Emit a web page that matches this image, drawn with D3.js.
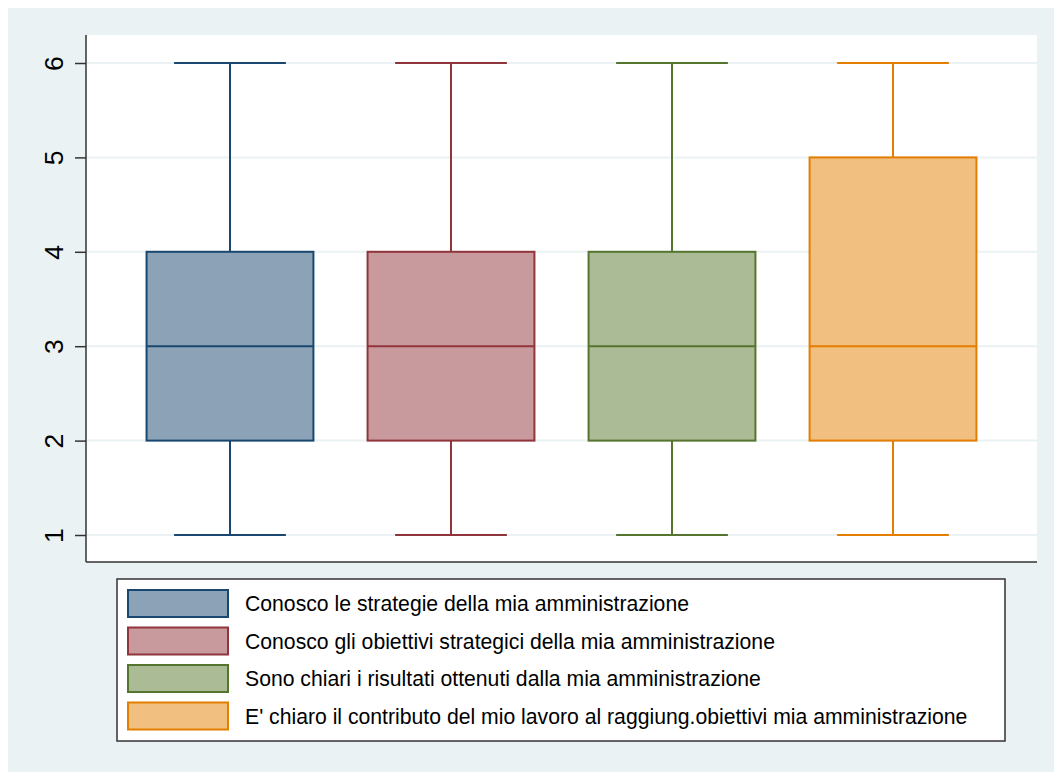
<!DOCTYPE html>
<html><head><meta charset="utf-8">
<script src="https://cdn.jsdelivr.net/npm/d3@7"></script>
<style>html,body{margin:0;padding:0;background:#fff;}svg{display:block;font-family:Arial,"Liberation Sans",sans-serif;}</style>
</head><body>
<svg id="c" width="1054" height="772"></svg>
<script>
const categories = ["Conosco le strategie della mia amministrazione",
  "Conosco gli obiettivi strategici della mia amministrazione",
  "Sono chiari i risultati ottenuti dalla mia amministrazione",
  "E' chiaro il contributo del mio lavoro al raggiung.obiettivi mia amministrazione"];
const whiskerLow = [1, 1, 1, 1];
const q1 = [2, 2, 2, 2];
const median = [3, 3, 3, 3];
const q3 = [4, 4, 4, 5];
const whiskerHigh = [6, 6, 6, 6];
const yTicks = [1, 2, 3, 4, 5, 6];
const strokeColors = ["#1a476f", "#90353b", "#55752f", "#e37e00"];
const fillColors = ["#8ca3b7", "#c89a9d", "#aabb96", "#f1bf80"];

const data = categories.map((c, i) => ({c, lo: whiskerLow[i], q1: q1[i], med: median[i], q3: q3[i], hi: whiskerHigh[i], i}));

const svg = d3.select("#c");
svg.append("rect").attr("x", 8).attr("y", 8).attr("width", 1046).attr("height", 764).attr("fill", "#eaf2f3");

const L = 86, R = 1037, T = 35, B = 562;
svg.append("rect").attr("x", L).attr("y", T).attr("width", R - L).attr("height", B - T).attr("fill", "#fff");

const y = d3.scaleLinear().domain([1, 6]).range([535, 63]);
const x = d3.scaleBand().domain(categories).range([L, R]).paddingInner(0.245).paddingOuter(0.274);

// grid
svg.append("g").selectAll("line").data(yTicks).join("line")
  .attr("x1", L).attr("x2", R).attr("y1", d => y(d)).attr("y2", d => y(d))
  .attr("stroke", "#eaf2f3").attr("stroke-width", 2);

// y axis
const yAxis = d3.axisLeft(y).tickValues(yTicks).tickSize(11).tickPadding(12).tickFormat(d3.format("d"));
const gy = svg.append("g").attr("transform", `translate(${L},0)`).call(yAxis);
gy.select(".domain").attr("d", `M0,${T}V${B}`).attr("stroke", "#333").attr("stroke-width", 1.5);
gy.selectAll(".tick line").attr("stroke", "#333").attr("stroke-width", 1.5);
gy.selectAll(".tick text").attr("font-size", 26.5).attr("fill", "#000")
  .attr("font-family", "Arial, 'Liberation Sans', sans-serif")
  .attr("transform", "rotate(-90)").attr("text-anchor", "middle")
  .attr("x", 0).attr("y", -23).attr("dy", 0);

// bottom axis line
svg.append("line").attr("x1", L).attr("x2", R).attr("y1", B).attr("y2", B).attr("stroke", "#333").attr("stroke-width", 1.5);

const bw = x.bandwidth();
const capW = bw * 0.67;
const g = svg.append("g").selectAll("g").data(data).join("g");
g.each(function(d) {
  const s = d3.select(this);
  const cx = x(d.c) + bw / 2;
  const col = strokeColors[d.i];
  s.append("line").attr("x1", cx).attr("x2", cx).attr("y1", y(d.hi)).attr("y2", y(d.q3)).attr("stroke", col).attr("stroke-width", 2);
  s.append("line").attr("x1", cx).attr("x2", cx).attr("y1", y(d.q1)).attr("y2", y(d.lo)).attr("stroke", col).attr("stroke-width", 2);
  s.append("line").attr("x1", cx - capW / 2).attr("x2", cx + capW / 2).attr("y1", y(d.hi)).attr("y2", y(d.hi)).attr("stroke", col).attr("stroke-width", 2);
  s.append("line").attr("x1", cx - capW / 2).attr("x2", cx + capW / 2).attr("y1", y(d.lo)).attr("y2", y(d.lo)).attr("stroke", col).attr("stroke-width", 2);
  s.append("rect").attr("x", x(d.c)).attr("width", bw).attr("y", y(d.q3)).attr("height", y(d.q1) - y(d.q3))
    .attr("fill", fillColors[d.i]).attr("stroke", col).attr("stroke-width", 2);
  s.append("line").attr("x1", x(d.c)).attr("x2", x(d.c) + bw).attr("y1", y(d.med)).attr("y2", y(d.med)).attr("stroke", col).attr("stroke-width", 2);
});

// legend
const lg = svg.append("g");
lg.append("rect").attr("x", 117).attr("y", 579).attr("width", 888).attr("height", 162).attr("fill", "#fff").attr("stroke", "#333").attr("stroke-width", 1.5);
const rows = lg.selectAll("g").data(data).join("g").attr("transform", d => `translate(128,${590 + d.i * 37.5})`);
rows.append("rect").attr("x", 0).attr("y", 0).attr("width", 100).attr("height", 27)
  .attr("fill", d => fillColors[d.i]).attr("stroke", d => strokeColors[d.i]).attr("stroke-width", 2);
rows.append("text").attr("x", 117).attr("y", 14).attr("dy", "0.35em").attr("font-size", 21.2).attr("fill", "#000").text(d => d.c);
</script>
</body></html>
